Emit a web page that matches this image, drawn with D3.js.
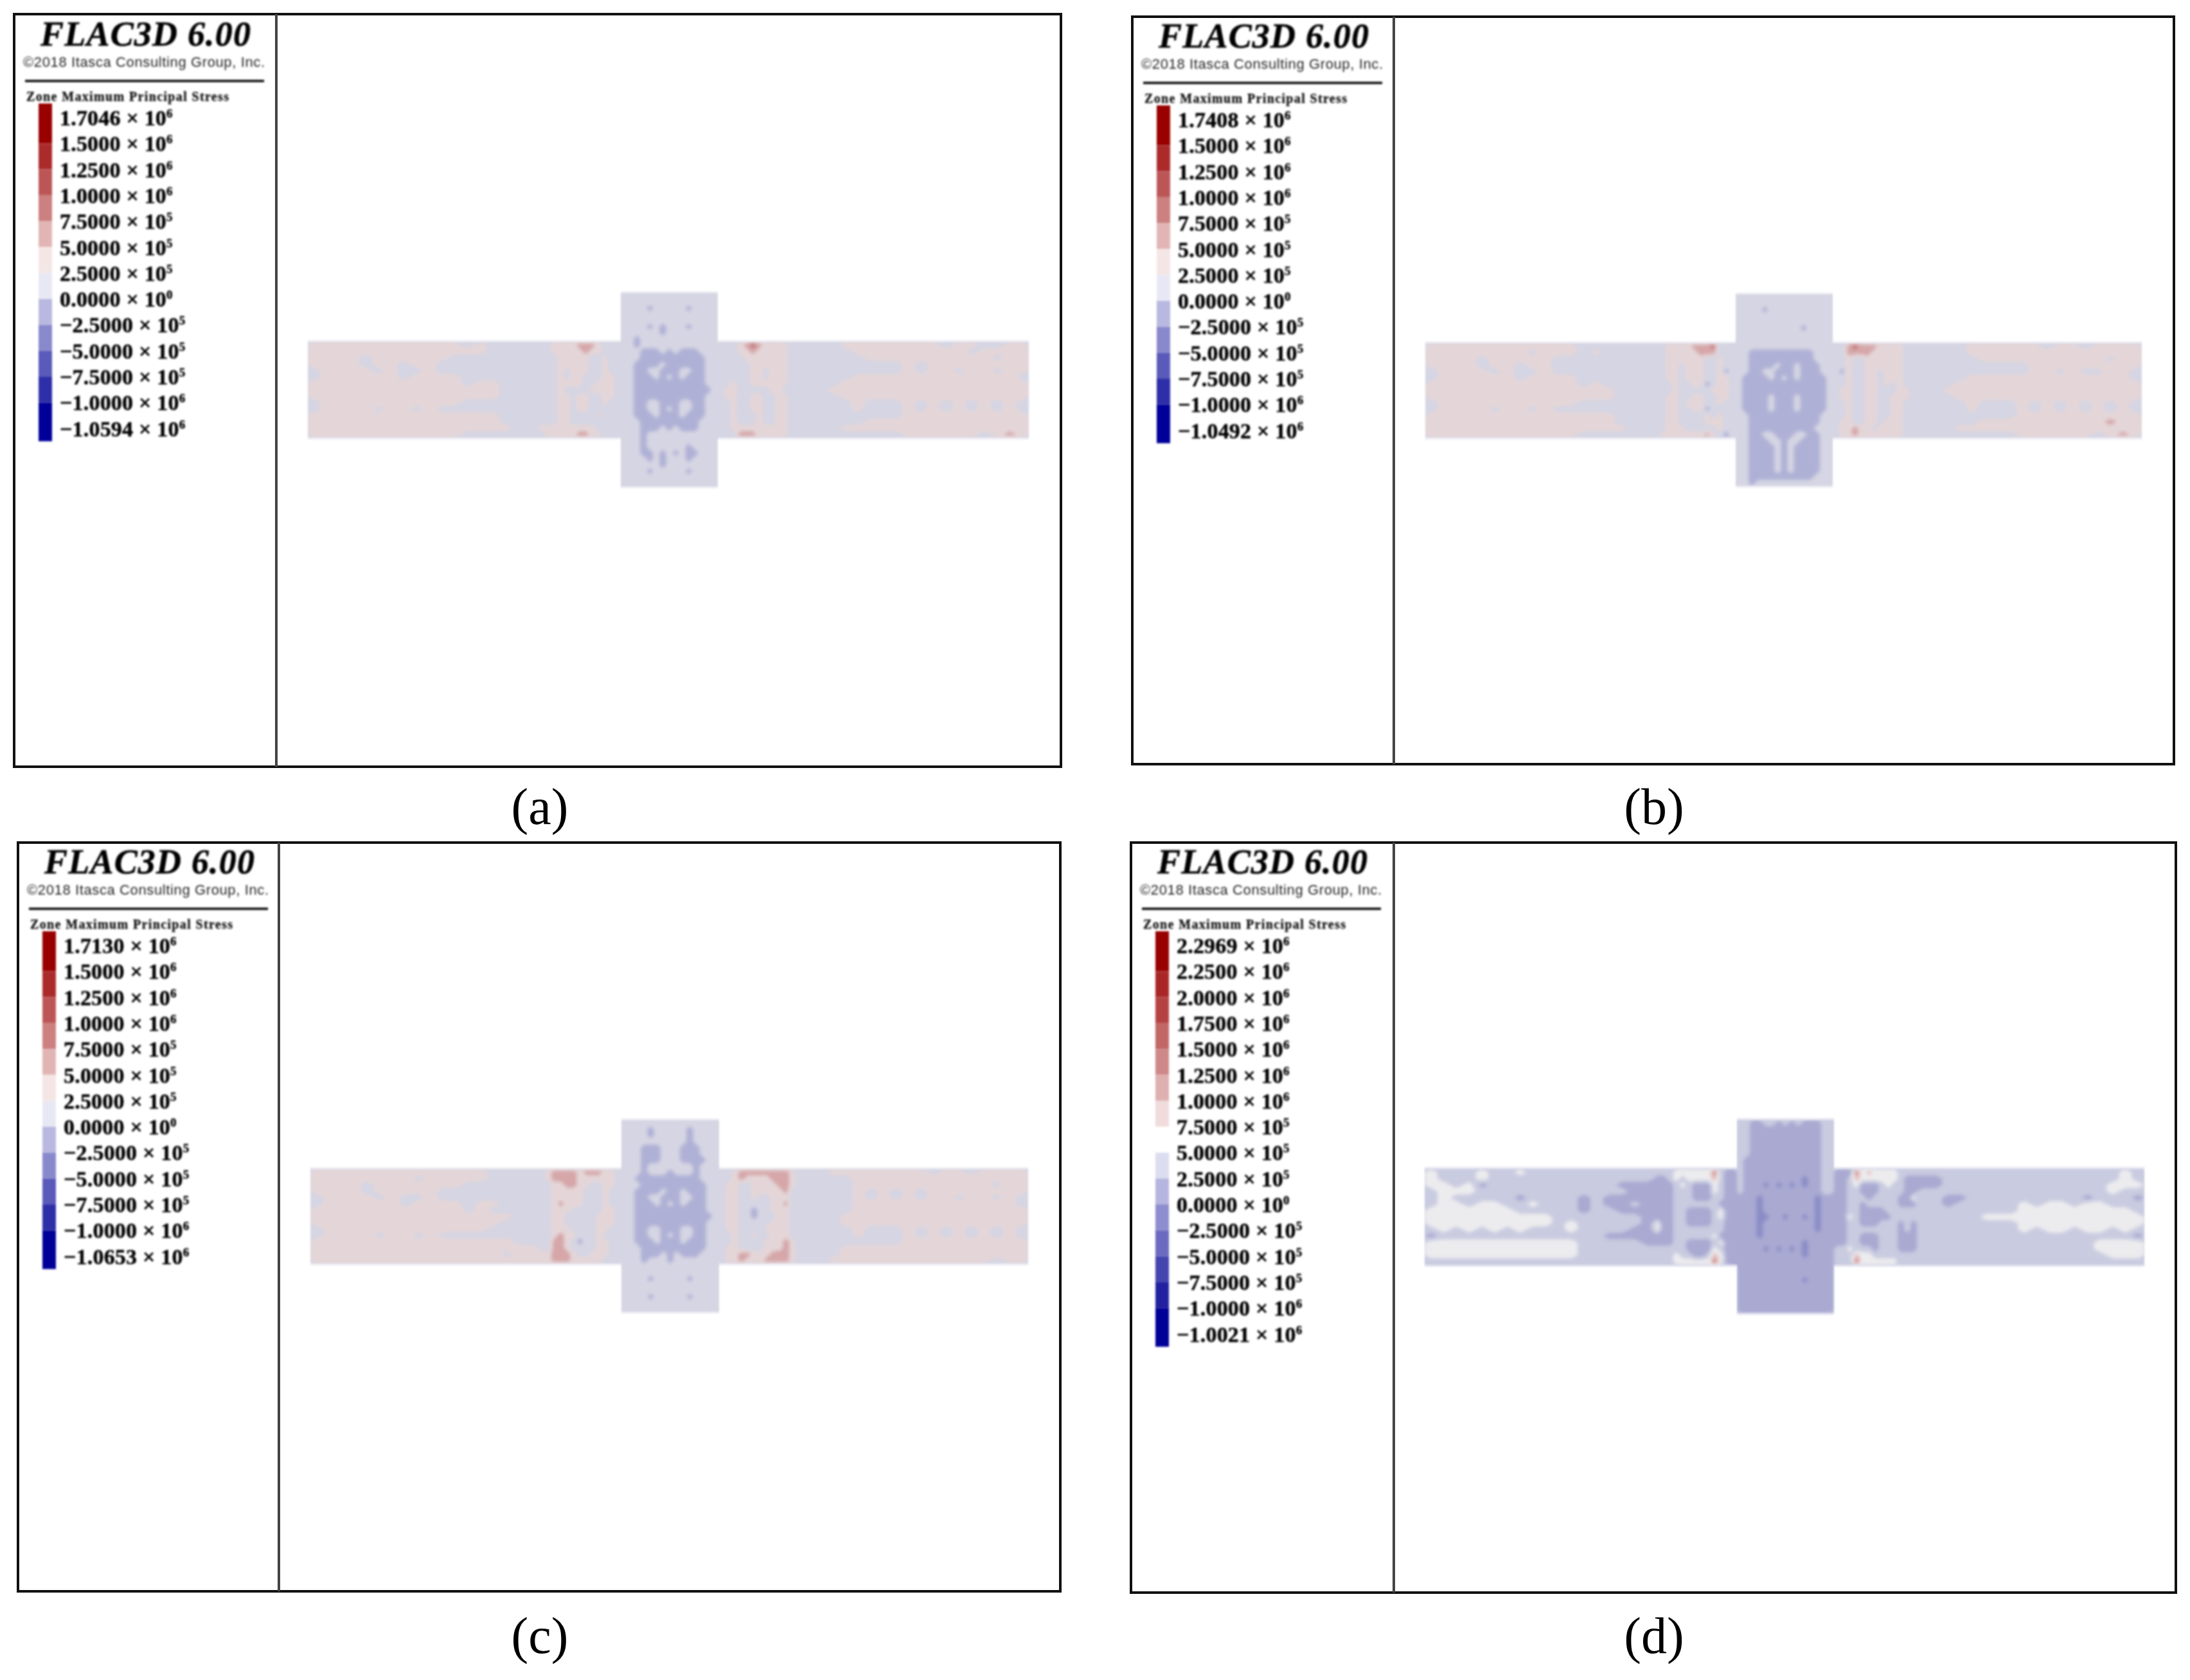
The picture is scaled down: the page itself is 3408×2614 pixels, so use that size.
<!DOCTYPE html>
<html>
<head>
<meta charset="utf-8">
<script src="https://cdn.jsdelivr.net/npm/d3@7"></script>
<style>
  html, body { margin: 0; background: #fff; }
</style>
</head>
<body>
<svg id="viz"></svg>
<script>
const width = 3408, height = 2614;

// legend labels, [mantissa, exponent]
const labelsA = [["1.7046",6],["1.5000",6],["1.2500",6],["1.0000",6],["7.5000",5],["5.0000",5],["2.5000",5],["0.0000",0],["\u22122.5000",5],["\u22125.0000",5],["\u22127.5000",5],["\u22121.0000",6],["\u22121.0594",6]];
const labelsB = [["1.7408",6],["1.5000",6],["1.2500",6],["1.0000",6],["7.5000",5],["5.0000",5],["2.5000",5],["0.0000",0],["\u22122.5000",5],["\u22125.0000",5],["\u22127.5000",5],["\u22121.0000",6],["\u22121.0492",6]];
const labelsC = [["1.7130",6],["1.5000",6],["1.2500",6],["1.0000",6],["7.5000",5],["5.0000",5],["2.5000",5],["0.0000",0],["\u22122.5000",5],["\u22125.0000",5],["\u22127.5000",5],["\u22121.0000",6],["\u22121.0653",6]];
const labelsD = [["2.2969",6],["2.2500",6],["2.0000",6],["1.7500",6],["1.5000",6],["1.2500",6],["1.0000",6],["7.5000",5],["5.0000",5],["2.5000",5],["0.0000",0],["\u22122.5000",5],["\u22125.0000",5],["\u22127.5000",5],["\u22121.0000",6],["\u22121.0021",6]];

const bandsABC = ["#990000","#AB2A2A","#BC5757","#CC8080","#E2B5B5","#F5E6E6","#E8E8F5","#B8B8E0","#8888CC","#5A5ABB","#2E2EA8","#000099"];
const bandsD = ["#990000","#AA2525","#B54343","#C26666","#CF8888","#DFB0B0","#F0DCDC","#FFFFFF","#DDDDF0","#B5B5E0","#8D8DD0","#6B6BC0","#4545B0","#2222A0","#000099"];

// colours of the contour levels 1..6, 3 is the base of each field
const levelsABC = {1:"#8E90C6",2:"#AFB0D6",3:"#D5D5E3",4:"#E4D6D8",5:"#D6A6A8",6:"#BE5F60"};
const levelsD = {1:"#8A8CC6",2:"#A9A9D2",3:"#C9CBE0",4:"#ECECEE",5:"#E3BDBD",6:"#B8433F"};

// stress level read per cell: rows of the top of the column, of the beam
// (left, near left, column, near right, right) and of the bottom of the column
const gridA = [
"333333333333333","333333333333333","333323333323333","333333333333333",
"333333333333333","333323233323333","333333233333333","332333333333333",
"444444444444343333 3344445554333 332333333333333 3334565444433 333444444443443344",
"444444444444443333 3344444544333 333222323222333 3334454444433 333344444444434444",
"444434444443333333 3334444433433 333222222222233 3333444444433 333334444444444344",
"444434434433333333 3334444433433 332222322222233 3333344444433 333333334344444444",
"344443433433333333 3334344433433 332233222332233 3333344344433 333333334344344344",
"344444434444333333 3334344333443 332223232322233 3333344344433 333344444444444443",
"444444444444344333 3334444334443 332222222222233 3343344444433 333444444444444444",
"444444444444444333 3334333344443 332222222222223 3443333344333 334444444444444444",
"444444444444444333 3334434433443 332222222222233 3443344334433 333444444444444444",
"344444444444333333 3334434433433 332233222332233 3343344334433 333343334343434343",
"344443443433333333 3334434433333 332233232332233 3343344334433 333343334343434343",
"444444444444444333 3334433334333 332223222322233 3343334334433 333333334444444444",
"444444444444444333 3334433333333 333222222222333 3343334334433 333334444444444444",
"444444444444444433 4444444443333 333222323222333 3344444444433 333444444444444444",
"444444444444333333 3444445544333 333233333333333 3335554444433 333333334444443454",
"333233333333333","333233333323333","333223232322333","333323233323333",
"333333233333333","333323333323333","333333333333333","333333333333333"
];

const gridB = [
"333333333333333","333333333333333","333323333333333","333333333333333",
"333333333333333","333333333323333","333333333333333","333333333333333",
"444444444444333333 3344445556333 333333333333333 3356555444433 333344444434434444",
"444444443444343333 3344444555333 332222222222333 3355554444433 333344444444444444",
"444434444433333333 3344444433433 332222222222333 3343344444433 333334444444444344",
"444434434433333333 3344344433433 332222322322233 3343344444433 333333333444444444",
"344443433433333333 3344344433423 332233222322233 3243344344433 333333333443433443",
"344444434444333333 3344344433443 322223232322223 3343344344433 333344444444444443",
"444444444444343333 3334334423443 322222222222223 3343344343433 333444444444444444",
"444444444444444333 3334333334443 322222222222223 3443344333443 334444444444444444",
"444444444444444333 3344334433443 322223222322223 3443344334443 333444444444444444",
"344444444444333333 3344344433433 322223222322223 3343344334433 333343334343434343",
"344443443433333333 3344334423333 322223222322223 3343344334433 333343334343434343",
"444444444444444333 3344333343433 332222222222233 3343344334433 333333334444444444",
"444444444444444333 3344333344433 332222222222233 3443344344433 333334444444444544",
"444444444444444433 3344433333433 332222222222333 3445443444433 333444444444444444",
"444444444444333333 3444444454323 332233222332233 3445444444433 333333334444443454",
"332223323322233","332222323222233","332222323222233","332222323222233",
"332222323222233","332222323222233","332222222222333","332333333333333"
];

const gridC = [
"333333333333333","333323333323333","333323333323333","333333333323333",
"333222333222333","333222333222333","333222333222233","333233333332333",
"444444444444443333 3455554555443 333233323332333 3345555555543 334444444434434444",
"444444443444443333 3455554444443 332222222222333 3345444455543 333344444444444444",
"444434444444333333 3344554433443 333222222222233 3443344445543 333344444444444344",
"444434444433333333 3344444333433 332222322322233 3443344444533 333343434344444444",
"344443433433333333 3344444333433 332233222332233 3443343344433 333343434344344343",
"344444434444344333 3345444333433 332223232322233 3443333344533 333344444444444443",
"444444444444343333 3344433333443 332222222222233 3443323344433 333344444444444444",
"444444444444444433 3344333334443 332222222222223 3443323334433 333444444444444444",
"444444444444444333 3344333334443 332222222222233 3443333344433 333444444444444444",
"344444444444443333 3344433334433 332233222332233 3443333444433 333343334343434343",
"344443443433333333 3345443334333 332233232332233 3343343344433 333343334343434343",
"444444444444444433 3355432334433 332223222322233 3343333444543 333333334444444444",
"444444444444444444 3355433334433 333222222222233 3443333444543 333444444444444444",
"444444444444444344 4455543344433 333222323222333 3445544455543 333444444444444444",
"444444444444444444 4455544444333 333233323333333 3445444555543 334444444444444344",
"333333333333333","333333333333333","333323333323333","333333333333333",
"333333333333333","333323333323333","333333333333333","333333333333333"
];

const gridD = [
"332233232322233","332222222222233","332222222222233","332222222222233",
"332222222222233","332222222222233","322222222222233","322222222222233",
"433343343333333333 3334444446322 322222222222233 2226454444333 333333333333333343",
"433343333333333333 2234344445322 322222222212233 2235444444322 223333333333333343",
"443423333333333222 2223432224322 322212121212233 2234222343322 223333333333333444",
"344433333333333322 2223332224322 322222222222233 2233222333322 333333333333333433",
"343333323333232222 2223332223322 222122222222122 2233323333224 332233333333323332",
"344344334333232232 2223333333222 222122222222122 2233233333222 332333334344344333",
"444444433333233222 2223322223422 222122222222122 2233222233333 333333334444444443",
"444444444433333332 2223322223422 222112212212122 2243222223333 333334444444444444",
"444444444434333332 4223322223322 222122222222122 2233222333232 333333334444444444",
"343434343334333322 4223333333322 222122222222122 2233333333232 333333334344344343",
"233333333333332222 2223333334222 222122222222222 2233222333222 333333333333333332",
"444444444444333332 2223322223422 222222222212222 2233222333222 333333333333334444",
"444444444444333333 3333322224322 222212121212222 3343332333222 333333333333334444",
"444444444444333333 3334332235422 222222222212222 3335443333333 333333333333333444",
"333333333333333333 3334444446422 222222222222222 3336444444333 333333333333333333",
"222222222222222","222222222222222","222222222212222","222222222222222",
"222222222222222","222222222222222","222222222222222","222222222222222"
];

const titleText = "FLAC3D 6.00";
const copyText = "\u00A92018 Itasca Consulting Group, Inc.";
const legendTitle = "Zone Maximum Principal Stress";

// page layout of the four panels
const layout = [
  {cap:"(a)", capX:840, capY:1282, x0:22, x1:1651, y0:22, y1:1193, div:430, dx:0, dy:0, sx0:479, sx1:1601, sy0:532, sy1:681, cx0:966, cx1:1117, cy0:456, cy1:757, grid:gridA, labels:labelsA, bands:bandsABC, levels:levelsABC, rim:"#EFEEF4"},
  {cap:"(b)", capX:2574, capY:1282, x0:1762, x1:3383, y0:26, y1:1189, div:2169, dx:1740, dy:3, sx0:2218, sx1:3333, sy0:534, sy1:681, cx0:2701, cx1:2852, cy0:458, cy1:756, grid:gridB, labels:labelsB, bands:bandsABC, levels:levelsABC, rim:"#EFEEF4"},
  {cap:"(c)", capX:840, capY:2572, x0:28, x1:1650, y0:1311, y1:2476, div:434, dx:6, dy:1288, sx0:483, sx1:1600, sy0:1819, sy1:1966, cx0:967, cx1:1119, cy0:1743, cy1:2041, grid:gridC, labels:labelsC, bands:bandsABC, levels:levelsABC, rim:"#EFEEF4"},
  {cap:"(d)", capX:2574, capY:2572, x0:1760, x1:3386, y0:1311, y1:2478, div:2169, dx:1738, dy:1288, sx0:2217, sx1:3337, sy0:1819, sy1:1968, cx0:2703, cx1:2854, cy0:1743, cy1:2043, grid:gridD, labels:labelsD, bands:bandsD, levels:levelsD, rim:"#E4E4F0"}
];

const svg = d3.select("#viz")
  .attr("width", width)
  .attr("height", height)
  .style("display", "block");

const defs = svg.append("defs");
[["soft", 1.4], ["softer", 2.6]].forEach(function(f) {
  defs.append("filter")
    .attr("id", f[0])
    .attr("x", -0.02).attr("y", -0.02).attr("width", 1.04).attr("height", 1.04)
    .append("feGaussianBlur").attr("stdDeviation", f[1]);
});

const nCols = 77, nRows = 31;
const contours = d3.contours().size([nCols, nRows]).smooth(true);

function readGrid(rows) {
  const values = [];
  rows.forEach(function(r) {
    let s = r.replace(/ /g, "");
    if (s.length == 15) s = "3".repeat(31) + s + "3".repeat(31);
    s = s.padEnd(nCols, "3").slice(0, nCols);
    for (const c of s) values.push(+c);
  });
  return values;
}

layout.forEach(function(p, i) {
  const g = svg.append("g");
  const soft = g.append("g").attr("filter", "url(#soft)");

  // cell index to page position, finer around the column
  const xs = d3.scaleLinear()
    .domain([0, 18, 31, 46, 59, 77])
    .range([p.sx0, p.cx0 - 129, p.cx0, p.cx1, p.cx1 + 129, p.sx1]);
  const ys = d3.scaleLinear()
    .domain([0, 8, 23, 31])
    .range([p.cy0, p.sy0, p.sy1, p.cy1]);
  const path = d3.geoPath(d3.geoTransform({
    point: function(x, y) { this.stream.point(xs(x), ys(y)); }
  }));

  // the beam and column with their thin light rim
  const rim = soft.append("g").attr("fill", p.rim);
  rim.append("rect").attr("x", p.sx0).attr("y", p.sy0 - 3).attr("width", p.sx1 - p.sx0).attr("height", p.sy1 - p.sy0 + 6);
  rim.append("rect").attr("x", p.cx0).attr("y", p.cy0 - 3).attr("width", p.cx1 - p.cx0).attr("height", p.cy1 - p.cy0 + 6);

  const clip = defs.append("clipPath").attr("id", "cross" + i);
  clip.append("rect").attr("x", p.sx0).attr("y", p.sy0).attr("width", p.sx1 - p.sx0).attr("height", p.sy1 - p.sy0);
  clip.append("rect").attr("x", p.cx0).attr("y", p.cy0).attr("width", p.cx1 - p.cx0).attr("height", p.cy1 - p.cy0);

  const field = soft.append("g").attr("clip-path", "url(#cross" + i + ")");
  field.append("rect").attr("x", p.sx0).attr("y", p.cy0).attr("width", p.sx1 - p.sx0).attr("height", p.cy1 - p.cy0)
    .attr("fill", p.levels[3]);
  const blurred = field.append("g").attr("filter", "url(#softer)");

  const values = readGrid(p.grid);
  blurred.selectAll("path.up")
    .data(contours.thresholds([3.5, 4.5, 5.5])(values))
    .enter().append("path")
    .attr("class", "up")
    .attr("d", path)
    .attr("fill", function(d) { return p.levels[d.value + 0.5]; });
  blurred.selectAll("path.down")
    .data(contours.thresholds([-2.5, -1.5])(values.map(function(v) { return -v; })))
    .enter().append("path")
    .attr("class", "down")
    .attr("d", path)
    .attr("fill", function(d) { return p.levels[-d.value - 0.5]; });

  // header of the legend
  const head = soft.append("g").attr("transform", "translate(" + p.dx + "," + p.dy + ")");
  head.append("text")
    .attr("x", 63).attr("y", 71)
    .attr("textLength", 327).attr("lengthAdjust", "spacing")
    .attr("font-family", "Liberation Serif").attr("font-weight", "bold").attr("font-style", "italic")
    .attr("font-size", 54)
    .attr("stroke", "#000").attr("stroke-width", 0.6)
    .text(titleText);
  head.append("text")
    .attr("x", 36).attr("y", 104)
    .attr("textLength", 376).attr("lengthAdjust", "spacing")
    .attr("font-family", "Liberation Sans").attr("font-size", 22).attr("fill", "#222")
    .text(copyText);
  head.append("line")
    .attr("x1", 39).attr("x2", 411).attr("y1", 126).attr("y2", 126)
    .attr("stroke", "#000").attr("stroke-width", 3.5);
  head.append("text")
    .attr("x", 41).attr("y", 157)
    .attr("textLength", 315).attr("lengthAdjust", "spacing")
    .attr("font-family", "Liberation Serif").attr("font-weight", "bold").attr("font-size", 20).attr("fill", "#111")
    .attr("stroke", "#111").attr("stroke-width", 0.3)
    .text(legendTitle);

  // colour bar and its labels
  const n = p.labels.length;
  const ly = d3.scaleLinear().domain([0, n - 1]).range([183, 183 + 40.3 * (n - 1)]);
  head.selectAll("rect.band")
    .data(p.bands)
    .enter().append("rect")
    .attr("class", "band")
    .attr("x", 60).attr("width", 21)
    .attr("y", function(d, k) { return k == 0 ? ly(0) - 22 : ly(k); })
    .attr("height", function(d, k) {
      const top = k == 0 ? ly(0) - 22 : ly(k);
      const bot = k == n - 2 ? ly(n - 1) + 20 : ly(k + 1);
      return bot - top;
    })
    .attr("fill", function(d) { return d; });

  const lab = head.selectAll("text.lab")
    .data(p.labels)
    .enter().append("text")
    .attr("class", "lab")
    .attr("x", 93)
    .attr("y", function(d, k) { return ly(k) + 12; })
    .attr("font-family", "Liberation Serif").attr("font-weight", "bold").attr("font-size", 34)
    .attr("letter-spacing", 0.2)
    .attr("stroke", "#000").attr("stroke-width", 0.5);
  lab.append("tspan").text(function(d) { return d[0] + " \u00D7 10"; });
  lab.append("tspan").attr("dy", -12).attr("font-size", 19).text(function(d) { return d[1]; });

  // frame of the panel
  g.append("rect")
    .attr("x", p.x0).attr("y", p.y0).attr("width", p.x1 - p.x0).attr("height", p.y1 - p.y0)
    .attr("fill", "none").attr("stroke", "#111").attr("stroke-width", 4);
  g.append("line")
    .attr("x1", p.div).attr("x2", p.div).attr("y1", p.y0).attr("y2", p.y1)
    .attr("stroke", "#444").attr("stroke-width", 4);

  svg.append("text")
    .attr("x", p.capX).attr("y", p.capY)
    .attr("text-anchor", "middle")
    .attr("font-family", "Liberation Serif").attr("font-size", 80)
    .text(p.cap);
});
</script>
</body>
</html>
